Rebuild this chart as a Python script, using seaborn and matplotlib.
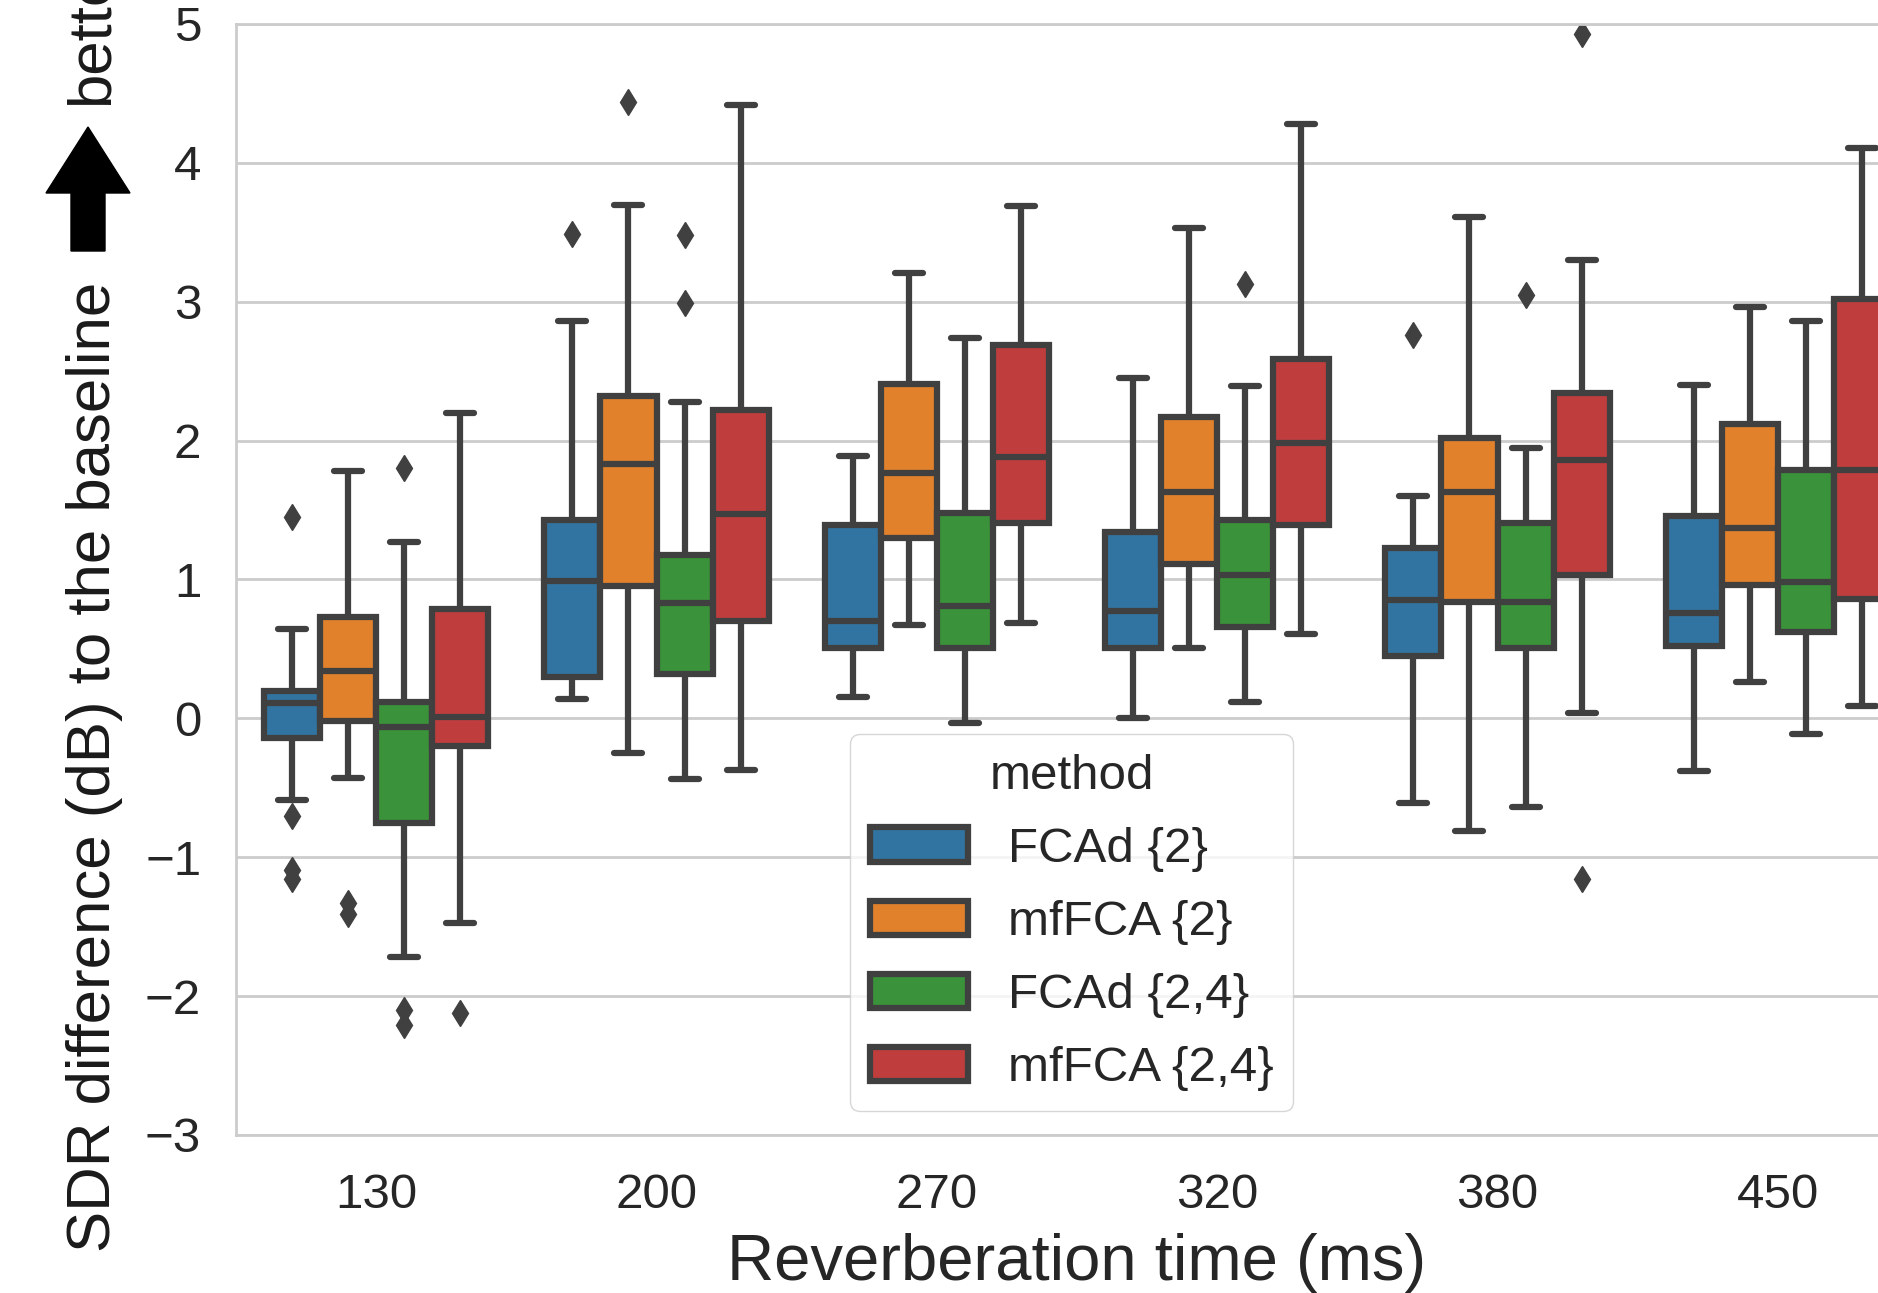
import numpy as np
import pandas as pd
import matplotlib
matplotlib.use("Agg")
import matplotlib.pyplot as plt
import seaborn as sns
from matplotlib.patches import Polygon

# ---------------- data ----------------
rt_labels = ["130", "200", "270", "320", "380", "450"]
methods = ["FCAd {2}", "mfFCA {2}", "FCAd {2,4}", "mfFCA {2,4}"]

# box statistics per reverberation time: [whisker low, q1, median, q3, whisker high]
fcad2_stats = [[-0.59, -0.14, 0.11, 0.20, 0.64],
               [0.14, 0.295, 0.99, 1.43, 2.86],
               [0.155, 0.51, 0.70, 1.39, 1.89],
               [0.00, 0.51, 0.77, 1.34, 2.45],
               [-0.61, 0.45, 0.85, 1.23, 1.60],
               [-0.38, 0.52, 0.76, 1.46, 2.40]]
mffca2_stats = [[-0.43, -0.02, 0.34, 0.73, 1.78],
                [-0.25, 0.95, 1.83, 2.32, 3.70],
                [0.67, 1.30, 1.77, 2.41, 3.21],
                [0.51, 1.11, 1.63, 2.17, 3.53],
                [-0.81, 0.84, 1.63, 2.02, 3.61],
                [0.26, 0.96, 1.37, 2.12, 2.96]]
fcad24_stats = [[-1.72, -0.75, -0.06, 0.12, 1.27],
                [-0.44, 0.32, 0.83, 1.18, 2.28],
                [-0.03, 0.51, 0.81, 1.48, 2.74],
                [0.12, 0.66, 1.03, 1.43, 2.39],
                [-0.64, 0.51, 0.84, 1.41, 1.95],
                [-0.11, 0.62, 0.98, 1.79, 2.86]]
mffca24_stats = [[-1.47, -0.20, 0.01, 0.79, 2.20],
                 [-0.37, 0.70, 1.47, 2.22, 4.42],
                 [0.69, 1.41, 1.88, 2.69, 3.69],
                 [0.61, 1.39, 1.98, 2.59, 4.28],
                 [0.04, 1.03, 1.86, 2.34, 3.30],
                 [0.09, 0.86, 1.79, 3.02, 4.11]]

# outliers per reverberation time
fcad2_fliers = [[1.45, -0.70, -1.09, -1.16], [3.49], [], [], [2.76], []]
mffca2_fliers = [[-1.33, -1.41], [4.44], [], [], [], []]
fcad24_fliers = [[1.80, -2.10, -2.21], [3.48, 2.99], [], [3.13], [3.05], []]
mffca24_fliers = [[-2.12], [], [], [], [4.93, -1.16], []]

all_stats = [fcad2_stats, mffca2_stats, fcad24_stats, mffca24_stats]
all_fliers = [fcad2_fliers, mffca2_fliers, fcad24_fliers, mffca24_fliers]

# sample whose box-plot summary equals the values read above
rows = []
for m, stats, fliers in zip(methods, all_stats, all_fliers):
    for rt, st, fl in zip(rt_labels, stats, fliers):
        lo, q1, med, q3, hi = st
        vals = list(fl) + [lo] + [q1] * 40 + [med] * 40 + [q3] * 40 + [hi]
        for v in vals:
            rows.append((rt, m, v))
df = pd.DataFrame(rows, columns=["Reverberation time (ms)", "method", "value"])

# ---------------- style ----------------
sns.set_theme(style="whitegrid")
plt.rcParams["font.family"] = ["Liberation Sans", "DejaVu Sans"]
plt.rcParams.update({
    "grid.linewidth": 2.0,
    "grid.color": ".8",
    "axes.linewidth": 2.0,
    "axes.edgecolor": ".8",
    "text.color": ".15",
    "axes.labelcolor": ".15",
})

W, H = 1878, 1293
fig = plt.figure(figsize=(W / 100, H / 100), dpi=100)
ax = fig.add_axes([236 / W, 158 / H, 1682 / W, 1111 / H])

sns.boxplot(data=df, x="Reverberation time (ms)", y="value", hue="method",
            order=rt_labels, hue_order=methods, ax=ax, palette="tab10",
            linewidth=4.5, linecolor=".25", fliersize=13, whis=1.5,
            flierprops=dict(marker="d", markerfacecolor=".25",
                            markeredgecolor=".25"),
            capprops=dict(solid_capstyle="round"))

ax.set_ylim(-3, 5)
ax.set_xlim(-0.5, len(rt_labels) - 0.5)
ax.set_yticks(np.arange(-3, 6, 1))
ax.tick_params(axis="both", length=0, labelsize=35.5, colors=".15")
ax.tick_params(axis="y", pad=25)
ax.tick_params(axis="x", pad=27)
ax.set_xlabel("Reverberation time (ms)", fontsize=47, labelpad=11)
ax.set_ylabel("")
for s in ["left", "bottom", "top", "right"]:
    ax.spines[s].set_color(".8")
    ax.spines[s].set_linewidth(2.0)

sns.move_legend(ax, "lower left", bbox_to_anchor=(0.365, 0.0216),
                borderaxespad=0, fontsize=35.5, title_fontsize=35.5,
                labelspacing=0.57, frameon=True, title="method")

# y label with arrow
fig.text(110 / W, (H - 1252) / H, "SDR difference (dB) to the baseline",
         rotation=90, rotation_mode="anchor", ha="left", va="baseline",
         fontsize=44.5, color=".1")
fig.text(108 / W, (H - 105) / H, "better",
         rotation=90, rotation_mode="anchor", ha="left", va="baseline",
         fontsize=44.5, color=".1")
arrow_px = [(88, 127), (130, 193), (105, 193), (105, 251),
            (71, 251), (71, 193), (46, 193)]
fig.patches.append(Polygon([(x / W, (H - y) / H) for x, y in arrow_px],
                           closed=True, transform=fig.transFigure,
                           facecolor="black", edgecolor="black", figure=fig))

fig.savefig("out.png", dpi=100)
